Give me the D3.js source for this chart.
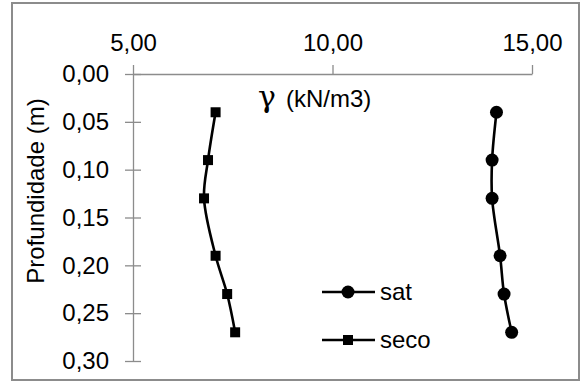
<!DOCTYPE html>
<html>
<head>
<meta charset="utf-8">
<script src="https://cdn.jsdelivr.net/npm/d3@7"></script>
<style>
  html, body { margin: 0; padding: 0; background: #fff; }
  svg { display: block; font-family: "Liberation Sans", Arial, sans-serif; }
</style>
</head>
<body>
<svg id="chart" width="582" height="383"></svg>
<script>
// Depths (m) and unit weights (kN/m3)
const depths = [0.04, 0.09, 0.13, 0.19, 0.23, 0.27];
const satValues = [14.11, 14.00, 14.00, 14.20, 14.30, 14.49];
const secoValues = [7.07, 6.88, 6.78, 7.07, 7.36, 7.56];
const xTicks = [5, 10, 15];
const yTicks = [0, 0.05, 0.10, 0.15, 0.20, 0.25, 0.30];
const seriesNames = ["sat", "seco"];

const svg = d3.select("#chart");
const fmt = v => d3.format(".2f")(v).replace(".", ",");

// outer frame
svg.append("rect")
  .attr("x", 12).attr("y", 3).attr("width", 567).attr("height", 377)
  .attr("fill", "#fff").attr("stroke", "#8c8c8c").attr("stroke-width", 2);

const x = d3.scaleLinear().domain([5, 15]).range([133, 532]);
const y = d3.scaleLinear().domain([0, 0.30]).range([74, 361]);
const axisColor = "#8c8c8c";

// top x axis
const gx = svg.append("g").attr("transform", `translate(0,${y(0)})`)
  .call(d3.axisTop(x).tickValues(xTicks).tickFormat(fmt).tickSize(9).tickSizeOuter(0).tickPadding(14));
gx.select(".domain").attr("stroke", axisColor).attr("stroke-width", 1.3);
gx.selectAll(".tick line").attr("stroke", axisColor).attr("stroke-width", 1.3);
gx.selectAll(".tick text").attr("fill", "#000").attr("font-size", 24)
  .attr("font-family", "Liberation Sans, Arial, sans-serif");

// left y axis (ticks crossing the line)
const gy = svg.append("g").attr("transform", `translate(${x(5)},0)`)
  .call(d3.axisLeft(y).tickValues(yTicks).tickFormat(fmt).tickSize(8).tickSizeOuter(0).tickPadding(16));
gy.select(".domain").attr("stroke", axisColor).attr("stroke-width", 1.3);
gy.selectAll(".tick line").attr("stroke", axisColor).attr("stroke-width", 1.3).attr("x2", 8).attr("x1", -8);
gy.selectAll(".tick text").attr("fill", "#000").attr("font-size", 24)
  .attr("font-family", "Liberation Sans, Arial, sans-serif");

// axis titles
svg.append("text")
  .attr("x", 258).attr("y", 107)
  .attr("font-size", 24)
  .html('<tspan font-family="DejaVu Serif, Liberation Serif, serif" font-size="30" font-weight="300">γ</tspan><tspan dx="10">(kN/m3)</tspan>');

svg.append("text")
  .attr("transform", `translate(44,${191}) rotate(-90)`)
  .attr("text-anchor", "middle")
  .attr("font-size", 24)
  .text("Profundidade (m)");

const line = d3.line().curve(d3.curveCatmullRom.alpha(0.5))
  .x(d => x(d[0])).y(d => y(d[1]));

const satData = satValues.map((v, i) => [v, depths[i]]);
const secoData = secoValues.map((v, i) => [v, depths[i]]);

function drawSeries(data, shape) {
  svg.append("path").datum(data).attr("d", line)
    .attr("fill", "none").attr("stroke", "#000").attr("stroke-width", 2.6);
  if (shape === "circle") {
    svg.selectAll(null).data(data).enter().append("circle")
      .attr("cx", d => x(d[0])).attr("cy", d => y(d[1])).attr("r", 6.5).attr("fill", "#000");
  } else {
    svg.selectAll(null).data(data).enter().append("rect")
      .attr("x", d => x(d[0]) - 5).attr("y", d => y(d[1]) - 5)
      .attr("width", 10).attr("height", 10).attr("fill", "#000");
  }
}
drawSeries(satData, "circle");
drawSeries(secoData, "square");

// legend
const legend = svg.append("g");
seriesNames.forEach((name, i) => {
  const cy = 292 + i * 48;
  legend.append("line").attr("x1", 322).attr("x2", 375).attr("y1", cy).attr("y2", cy)
    .attr("stroke", "#000").attr("stroke-width", 2.6);
  if (i === 0) {
    legend.append("circle").attr("cx", 348).attr("cy", cy).attr("r", 6.5).attr("fill", "#000");
  } else {
    legend.append("rect").attr("x", 343).attr("y", cy - 5).attr("width", 10).attr("height", 10).attr("fill", "#000");
  }
  legend.append("text").attr("x", 380).attr("y", cy).attr("dy", "0.35em")
    .attr("font-size", 24).text(name);
});
</script>
</body>
</html>
